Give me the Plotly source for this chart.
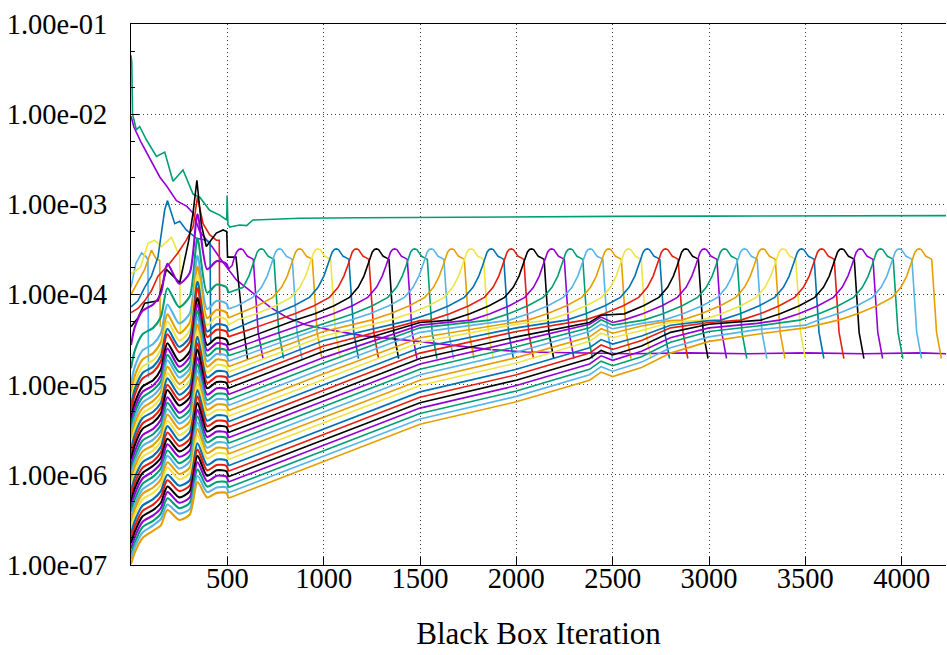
import plotly.graph_objects as go

# gnuplot default line colours, cycled by series number
palette = ["#9400D3", "#009E73", "#56B4E9", "#E69F00",
           "#F0E442", "#0072B2", "#E51E10", "#000000"]

x_ticks = [500, 1000, 1500, 2000, 2500, 3000, 3500, 4000]
y_ticks = [1e-7, 1e-6, 1e-5, 1e-4, 1e-3, 1e-2, 1e-1]
y_tick_text = ["1.00e-07", "1.00e-06", "1.00e-05", "1.00e-04",
               "1.00e-03", "1.00e-02", "1.00e-01"]

# ---- series 1 to 8 (iteration, residual) ----
purple_x = [0, 15, 50, 100, 150, 185, 236, 290, 322, 357, 420, 470, 547, 632, 720, 807,
            910, 1047, 1200, 1500, 1700, 1870, 2050, 2300, 2600, 2900, 3200, 3500, 3800, 4100, 4230]
purple_y = [9.5e-3, 7.2e-3, 5.0e-3, 3.2e-3, 2.0e-3, 1.6e-3, 1.1e-3, 9.5e-4, 8.0e-4, 5.0e-4,
            3.4e-4, 2.4e-4, 1.45e-4, 1.04e-4, 7.3e-5, 5.6e-5, 4.6e-5, 4.0e-5, 3.5e-5, 3.0e-5,
            2.7e-5, 2.45e-5, 2.3e-5, 2.25e-5, 2.2e-5, 2.25e-5, 2.2e-5, 2.25e-5, 2.2e-5, 2.25e-5, 2.2e-5]

green_x = [0, 4, 8, 28, 45, 62, 80, 132, 175, 218, 270, 322, 357, 408, 460, 497, 499, 503,
           512, 564, 600, 633, 876, 1200, 1600, 2000, 2500, 3000, 3500, 4000, 4230]
green_y = [4.5e-2, 3.8e-2, 1.0e-2, 6.7e-3, 7.3e-3, 6.2e-3, 5.2e-3, 3.4e-3, 3.8e-3, 1.8e-3,
           2.4e-3, 1.3e-3, 1.2e-3, 8.6e-4, 7.6e-4, 6.7e-4, 1.25e-3, 6.0e-4, 5.6e-4, 5.9e-4,
           5.8e-4, 6.7e-4, 7.0e-4, 7.1e-4, 7.2e-4, 7.3e-4, 7.35e-4, 7.4e-4, 7.45e-4, 7.5e-4, 7.5e-4]

lightblue_x = [0, 25, 55, 80, 88, 91]
lightblue_y = [1.2e-4, 2.2e-4, 2.9e-4, 2.6e-4, 2.4e-4, 1.2e-5]

orange_x = [0, 36, 71, 106, 130, 149, 152]
orange_y = [1.0e-4, 1.4e-4, 1.9e-4, 3.1e-4, 2.5e-4, 2.4e-4, 4.4e-5]

yellow_x = [0, 50, 88, 123, 158, 210, 244, 253, 256]
yellow_y = [1.7e-4, 2.0e-4, 3.7e-4, 4.0e-4, 3.4e-4, 4.3e-4, 2.9e-4, 2.7e-4, 3.7e-5]

darkblue_x = [0, 36, 71, 106, 140, 175, 189, 227, 253, 287, 340, 391, 410, 414]
darkblue_y = [7.3e-5, 8.5e-5, 1.2e-4, 1.6e-4, 2.6e-4, 8.7e-4, 1.1e-3, 6.1e-4, 6.5e-4,
              5.2e-4, 4.2e-4, 4.0e-4, 3.8e-4, 3.0e-5]

red_x = [0, 36, 71, 106, 140, 192, 244, 287, 322, 345, 374, 408, 443, 458, 462]
red_y = [6.3e-5, 7.0e-5, 8.5e-5, 1.1e-4, 1.6e-4, 2.1e-4, 2.9e-4, 4.0e-4, 5.6e-4, 1.2e-3,
         6.1e-4, 4.6e-4, 4.0e-4, 4.0e-4, 2.1e-5]

black_x = [0, 36, 71, 140, 184, 253, 300, 322, 342, 365, 391, 443, 478, 497, 501, 545, 575, 605]
black_y = [4.4e-5, 5.5e-5, 8.0e-5, 8.5e-5, 1.9e-4, 1.35e-4, 4.0e-4, 8.0e-4, 1.85e-3, 6.0e-4,
           3.4e-4, 4.8e-4, 5.2e-4, 5.0e-4, 2.6e-4, 2.6e-4, 6.0e-5, 1.9e-5]

# ---- series 9 to 44: each climbs to the cap once and is then retired ----
peak_iter = [570, 677, 772, 876, 971, 1066, 1170, 1274, 1369, 1473, 1559, 1665,
             1765, 1870, 1974, 2079, 2184, 2280, 2384, 2480, 2583, 2680, 2775, 2880,
             2976, 3081, 3185, 3279, 3385, 3481, 3585, 3689, 3786, 3891, 3988, 4091]

# log10 residual of series 9..44 during the first 500 iterations
pre_iter = [0, 20, 60, 115, 155, 189, 250, 305, 345, 395, 445, 495]
log_at_0 = [-4.56, -4.82, -4.99, -5.09, -5.17, -5.23, -5.29, -5.38, -5.44, -5.49, -5.55, -5.61,
            -5.66, -5.72, -5.78, -5.83, -5.90, -5.96, -6.01, -6.07, -6.13, -6.18, -6.24, -6.30,
            -6.36, -6.41, -6.47, -6.53, -6.58, -6.65, -6.71, -6.76, -6.82, -6.88, -6.93, -6.99]
log_at_20 = [-4.36, -4.62, -4.80, -4.90, -4.98, -5.05, -5.11, -5.20, -5.26, -5.31, -5.37, -5.43,
             -5.49, -5.55, -5.61, -5.67, -5.74, -5.80, -5.85, -5.91, -5.97, -6.03, -6.09, -6.15,
             -6.21, -6.27, -6.33, -6.38, -6.44, -6.51, -6.57, -6.63, -6.69, -6.75, -6.80, -6.86]
log_at_60 = [-4.18, -4.44, -4.62, -4.72, -4.80, -4.87, -4.93, -5.02, -5.08, -5.14, -5.20, -5.26,
             -5.32, -5.37, -5.43, -5.49, -5.56, -5.62, -5.68, -5.74, -5.80, -5.86, -5.92, -5.98,
             -6.04, -6.10, -6.16, -6.21, -6.27, -6.34, -6.40, -6.46, -6.52, -6.58, -6.64, -6.70]
log_at_115 = [-4.11, -4.37, -4.55, -4.65, -4.73, -4.80, -4.86, -4.95, -5.01, -5.06, -5.12, -5.18,
              -5.24, -5.30, -5.36, -5.42, -5.49, -5.55, -5.61, -5.67, -5.73, -5.79, -5.85, -5.90,
              -5.96, -6.02, -6.08, -6.14, -6.20, -6.27, -6.33, -6.39, -6.45, -6.51, -6.56, -6.62]
log_at_155 = [-3.99, -4.25, -4.43, -4.53, -4.61, -4.68, -4.74, -4.83, -4.90, -4.96, -5.02, -5.08,
              -5.14, -5.20, -5.26, -5.32, -5.39, -5.45, -5.51, -5.57, -5.63, -5.69, -5.75, -5.81,
              -5.87, -5.93, -5.99, -6.05, -6.11, -6.18, -6.24, -6.31, -6.37, -6.43, -6.49, -6.56]
log_at_189 = [-3.66, -3.93, -4.11, -4.22, -4.30, -4.38, -4.44, -4.54, -4.60, -4.67, -4.73, -4.80,
              -4.87, -4.93, -5.00, -5.06, -5.14, -5.20, -5.27, -5.33, -5.40, -5.46, -5.53, -5.60,
              -5.66, -5.73, -5.79, -5.86, -5.92, -6.00, -6.06, -6.13, -6.19, -6.26, -6.33, -6.39]
log_at_250 = [-3.88, -4.14, -4.32, -4.43, -4.51, -4.58, -4.64, -4.74, -4.80, -4.86, -4.92, -4.99,
              -5.05, -5.11, -5.17, -5.23, -5.31, -5.37, -5.43, -5.49, -5.56, -5.62, -5.68, -5.74,
              -5.80, -5.87, -5.93, -5.99, -6.05, -6.12, -6.18, -6.25, -6.31, -6.37, -6.43, -6.50]
log_at_305 = [-3.76, -4.02, -4.21, -4.31, -4.40, -4.47, -4.53, -4.63, -4.69, -4.76, -4.82, -4.88,
              -4.95, -5.01, -5.08, -5.14, -5.21, -5.28, -5.34, -5.41, -5.47, -5.53, -5.60, -5.66,
              -5.73, -5.79, -5.85, -5.92, -5.98, -6.06, -6.12, -6.18, -6.25, -6.31, -6.38, -6.44]
log_at_345 = [-3.11, -3.38, -3.57, -3.69, -3.78, -3.86, -3.93, -4.04, -4.11, -4.18, -4.25, -4.33,
              -4.40, -4.47, -4.54, -4.61, -4.70, -4.77, -4.84, -4.91, -4.99, -5.06, -5.13, -5.20,
              -5.28, -5.35, -5.42, -5.49, -5.56, -5.65, -5.72, -5.79, -5.86, -5.94, -6.01, -6.08]
log_at_395 = [-3.72, -3.98, -4.16, -4.26, -4.34, -4.41, -4.47, -4.56, -4.62, -4.68, -4.74, -4.80,
              -4.86, -4.92, -4.98, -5.04, -5.11, -5.17, -5.22, -5.28, -5.34, -5.40, -5.46, -5.52,
              -5.58, -5.64, -5.70, -5.76, -5.82, -5.89, -5.95, -6.01, -6.07, -6.13, -6.19, -6.25]
log_at_445 = [-3.63, -3.89, -4.07, -4.17, -4.25, -4.33, -4.39, -4.48, -4.54, -4.60, -4.66, -4.72,
              -4.78, -4.85, -4.91, -4.97, -5.04, -5.10, -5.16, -5.22, -5.28, -5.34, -5.40, -5.46,
              -5.52, -5.58, -5.64, -5.70, -5.76, -5.83, -5.89, -5.95, -6.01, -6.08, -6.14, -6.20]
log_at_495 = [-3.66, -3.92, -4.10, -4.20, -4.28, -4.35, -4.41, -4.50, -4.56, -4.62, -4.68, -4.74,
              -4.80, -4.86, -4.92, -4.98, -5.05, -5.11, -5.17, -5.23, -5.29, -5.35, -5.41, -5.47,
              -5.53, -5.59, -5.65, -5.71, -5.77, -5.84, -5.90, -5.96, -6.02, -6.08, -6.14, -6.20]

# log10 residual after the restart at iteration 500, while still in the pack
post_iter = [505, 1000, 1500, 2000, 2380, 2440, 2500, 2650, 2800, 3000, 3250, 3500]
N = None
log_at_505 = [-3.72, -3.98, -4.16, -4.26, -4.34, -4.41, -4.47, -4.56, -4.62, -4.68, -4.74, -4.80,
              -4.86, -4.92, -4.98, -5.04, -5.11, -5.17, -5.23, -5.29, -5.35, -5.41, -5.47, -5.53,
              -5.59, -5.65, -5.71, -5.77, -5.83, -5.90, -5.96, -6.02, -6.08, -6.14, -6.20, -6.26]
log_at_1000 = [N] * 9 + [-4.33, -4.36, -4.41, -4.46, -4.51, -4.57, -4.63, -4.70, -4.76,
                         -4.82, -4.88, -4.94, -5.00, -5.06, -5.12, -5.18, -5.24, -5.30, -5.36,
                         -5.42, -5.49, -5.55, -5.61, -5.67, -5.73, -5.79, -5.85]
log_at_1500 = [N] * 14 + [-4.29, -4.31, -4.34, -4.37, -4.42, -4.48, -4.53, -4.59, -4.65,
                          -4.71, -4.77, -4.83, -4.89, -4.95, -5.01, -5.08, -5.14, -5.20, -5.26,
                          -5.32, -5.38, -5.44]
log_at_2000 = [N] * 19 + [-4.31, -4.33, -4.37, -4.41, -4.47, -4.52, -4.58, -4.64, -4.70,
                          -4.76, -4.83, -4.89, -4.95, -5.01, -5.07, -5.13, -5.19]
log_at_2380 = [N] * 23 + [-4.31, -4.33, -4.37, -4.41, -4.47, -4.52, -4.59, -4.65, -4.71,
                          -4.77, -4.83, -4.89, -4.95]
log_at_2440 = [N] * 23 + [-4.23, -4.25, -4.28, -4.33, -4.38, -4.43, -4.50, -4.56, -4.62,
                          -4.68, -4.74, -4.80, -4.86]
log_at_2500 = [N] * 24 + [-4.31, -4.34, -4.38, -4.43, -4.48, -4.55, -4.61, -4.67, -4.73,
                          -4.79, -4.85, -4.91]
log_at_2650 = [N] * 26 + [-4.32, -4.35, -4.40, -4.46, -4.51, -4.57, -4.63, -4.69, -4.75, -4.81]
log_at_2800 = [N] * 27 + [-4.29, -4.31, -4.34, -4.37, -4.42, -4.48, -4.53, -4.59, -4.65]
log_at_3000 = [N] * 29 + [-4.29, -4.31, -4.33, -4.37, -4.41, -4.47, -4.52]
log_at_3250 = [N] * 32 + [-4.32, -4.35, -4.39, -4.44]
log_at_3500 = [N] * 34 + [-4.34, -4.37]

# climb to the cap, the cap itself and the drop, relative to the peak iteration
cap_offset = [-420, -320, -220, -140, -95, -65, -45, -33, -22, -11, 0, 11, 22, 35, 52, 65, 90, 115]
cap_value = [5.2e-5, 6.1e-5, 7.5e-5, 9.3e-5, 1.2e-4, 1.6e-4, 2.1e-4, 2.6e-4, 2.95e-4, 3.15e-4,
             3.2e-4, 3.15e-4, 2.95e-4, 2.65e-4, 2.55e-4, 2.45e-4, 3.8e-5, 1.95e-5]

pre_cols = [log_at_0, log_at_20, log_at_60, log_at_115, log_at_155, log_at_189,
            log_at_250, log_at_305, log_at_345, log_at_395, log_at_445, log_at_495]
post_cols = [log_at_505, log_at_1000, log_at_1500, log_at_2000, log_at_2380, log_at_2440,
             log_at_2500, log_at_2650, log_at_2800, log_at_3000, log_at_3250, log_at_3500]

LW = 1.6
fig = go.Figure()

first_eight = [(purple_x, purple_y), (green_x, green_y), (lightblue_x, lightblue_y),
               (orange_x, orange_y), (yellow_x, yellow_y), (darkblue_x, darkblue_y),
               (red_x, red_y), (black_x, black_y)]
for i, (xs, ys) in enumerate(first_eight):
    fig.add_trace(go.Scatter(x=xs, y=ys, mode="lines",
                             line=dict(color=palette[i], width=LW)))

for k, peak in enumerate(peak_iter):
    colour = palette[k % 8]
    # first 500 iterations: smooth, slightly heavier stroke
    px_ = list(pre_iter) + [post_iter[0]]
    py_ = [10 ** col[k] for col in pre_cols] + [10 ** log_at_505[k]]
    fig.add_trace(go.Scatter(x=px_, y=py_, mode="lines",
                             line=dict(color=colour, width=2.1, shape="spline", smoothing=0.7)))
    # after the restart: pack, climb, cap and drop
    xs, ys = [], []
    for it, col in zip(post_iter, post_cols):
        if col[k] is not None:
            xs.append(it)
            ys.append(10 ** col[k])
    base_x, base_y = xs[-1], ys[-1]
    for dx, v in zip(cap_offset, cap_value):
        it = peak + dx
        if it > base_x + 8 and (dx >= -33 or v >= base_y):
            xs.append(it)
            ys.append(v)
    fig.add_trace(go.Scatter(x=xs, y=ys, mode="lines",
                             line=dict(color=colour, width=LW)))

FONT = "Liberation Serif, Times New Roman, Times, DejaVu Serif, serif"
grid = dict(showgrid=True, gridcolor="rgba(0,0,0,0.75)", gridwidth=1, griddash="1px,3px")

fig.update_layout(
    width=947, height=655,
    margin=dict(l=131, r=1, t=24, b=90),
    paper_bgcolor="white", plot_bgcolor="white",
    showlegend=False,
    font=dict(family=FONT, size=28.5, color="black"),
)
fig.update_xaxes(
    range=[0, 4230], tickmode="array", tickvals=x_ticks,
    ticks="inside", ticklen=8, tickcolor="black", tickwidth=1,
    showline=True, linecolor="black", linewidth=1.2, mirror=True,
    zeroline=False, ticklabelstandoff=-12,
    title=dict(text="Black Box Iteration", font=dict(family=FONT, size=31), standoff=29),
    **grid,
)
fig.update_yaxes(
    type="log", range=[-7, -1], tickmode="array", tickvals=y_ticks, ticktext=y_tick_text,
    ticks="inside", ticklen=8, tickcolor="black", tickwidth=1,
    showline=True, linecolor="black", linewidth=1.2, mirror=False,
    zeroline=False, ticklabelstandoff=17,
    minor=dict(ticks="inside", ticklen=4, tickcolor="black", dtick="D2", showgrid=False),
    **grid,
)

fig.write_html("out.html")
